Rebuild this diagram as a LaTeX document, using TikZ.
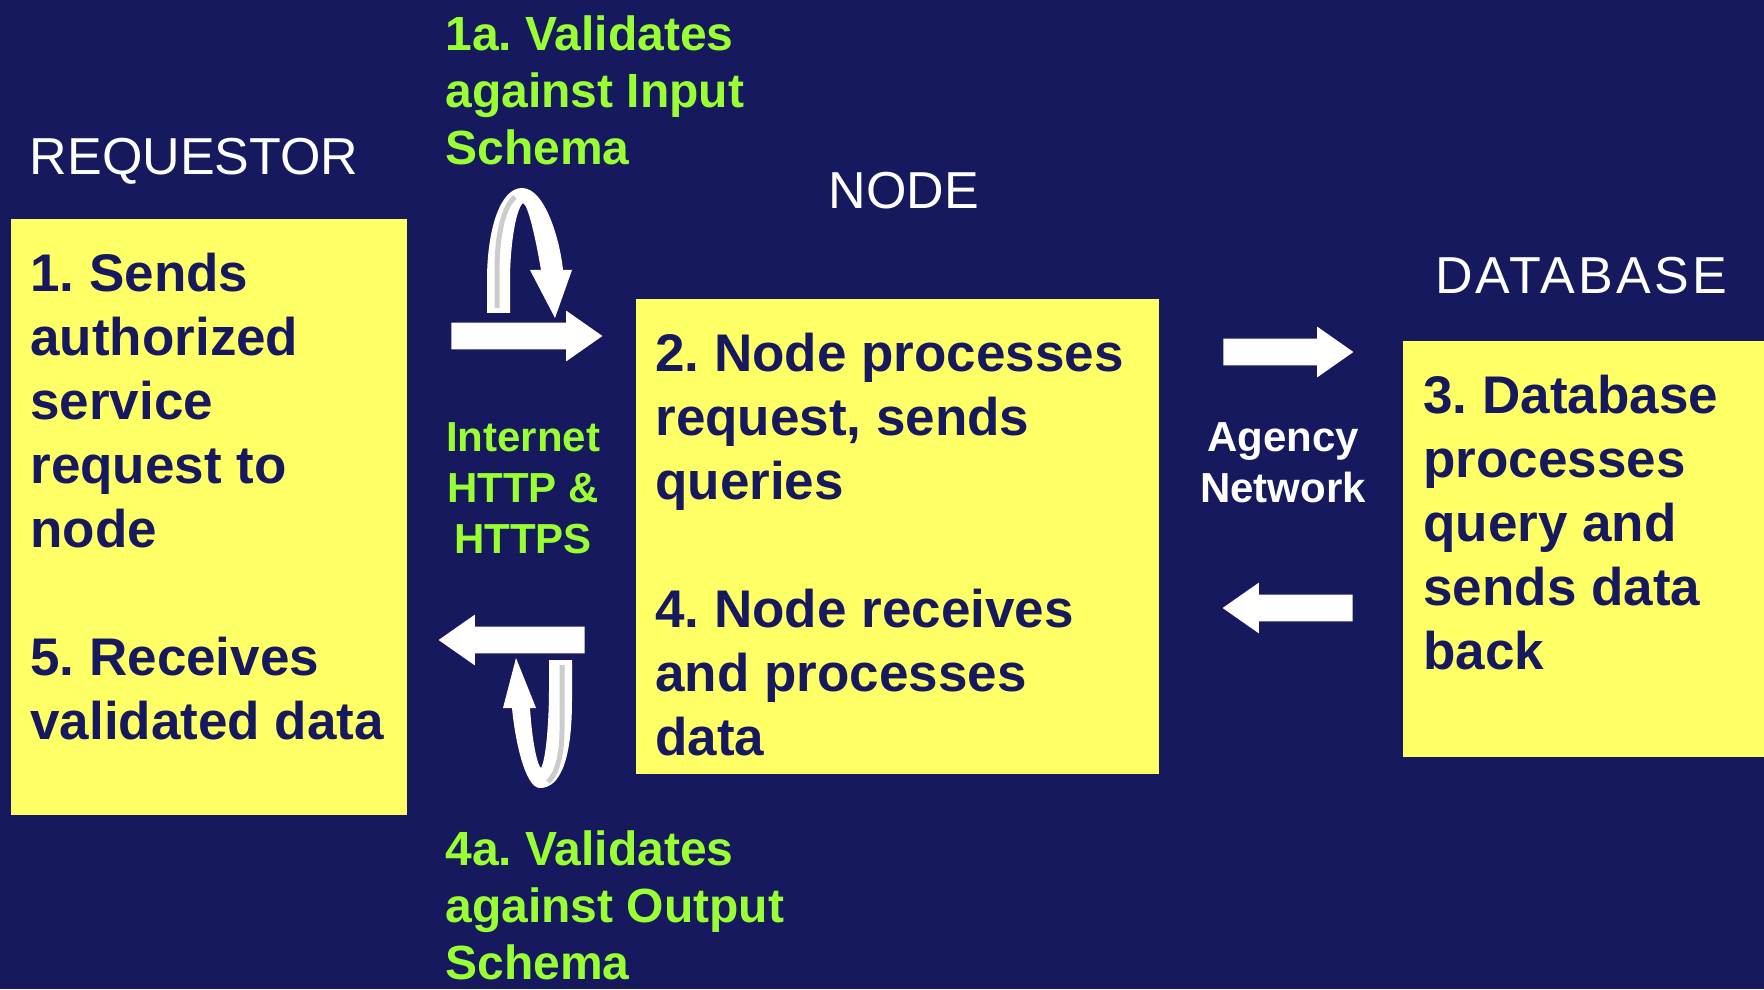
\documentclass[tikz,border=0pt]{standalone}
\usepackage{fontspec}
\setmainfont{Liberation Sans}
\usetikzlibrary{shapes.arrows}
\frenchspacing

\definecolor{navy}{RGB}{22,25,94}
\definecolor{lemon}{RGB}{255,255,102}
\definecolor{lime}{RGB}{153,255,51}

\begin{document}
\begin{tikzpicture}[x = 0.5pt, y = -0.5pt,
		yellowbox/.style = {fill = lemon, anchor = north west, inner sep = 0pt},
		boxtext/.style = {anchor = base west, align = left, inner sep = 0pt, text = navy,
			font = \bfseries\fontsize{26.5}{32}\selectfont},
		greentext/.style = {anchor = base west, align = left, inner sep = 0pt, text = lime,
			font = \bfseries\fontsize{24}{28.5}\selectfont},
		linktext/.style = {anchor = base, align = center, inner sep = 0pt,
			font = \bfseries\fontsize{21}{25.5}\selectfont},
		title/.style = {anchor = base, inner sep = 0pt, text = white,
			font = \fontsize{26}{30}\selectfont},
		blockarrow/.style = {single arrow, fill = white, anchor = tail, inner xsep = 0pt, inner ysep = 6.5pt,
			single arrow head extend = 6pt, single arrow tip angle = 70}]

		\fill [navy] (0,0) rectangle (1764,989);
		\useasboundingbox (0,0) rectangle (1764,989);

		% the three parties
		\node [yellowbox, minimum width = 198pt, minimum height = 298pt] (reqbox) at (11,219) {};
		\node [yellowbox, minimum width = 261.5pt, minimum height = 237.5pt] (nodebox) at (636,299) {};
		\node [yellowbox, minimum width = 180.5pt, minimum height = 208pt] (dbbox) at (1403,341) {};

		\node [title] (reqtitle) at (194,175) {REQUESTOR};
		\node [title] (nodetitle) at (904,209) {NODE};
		\node [title] (dbtitle) at (1581,293) {\addfontfeature{LetterSpace=6}DATABASE};

		% base of a multi-line node is its last line
		\node [boxtext] (reqtext) at (30,739)
			{1. Sends\\authorized\\service\\request to\\node\\[32pt]5. Receives\\validated data};
		\node [boxtext] (nodetext) at (655,755)
			{2. Node processes\\request, sends\\queries\\[32pt]4. Node receives\\and processes\\data};
		\node [boxtext] (dbtext) at (1423,669)
			{3. Database\\processes\\query and\\sends data\\back};

		% validation steps
		\node [greentext] (inval) at (445,165) {1a. Validates\\against Input\\Schema};
		\node [greentext] (outval) at (445,979) {4a. Validates\\against Output\\Schema};

		\node [linktext, text = lime] (internet) at (523,553) {Internet\\HTTP \&\\HTTPS};
		\node [linktext, text = white] (agency) at (1283,502) {Agency\\Network};

		% block arrows
		\node [blockarrow, minimum height = 75.5pt] (toreq) at (451,336) {};
		\node [blockarrow, minimum height = 73pt, shape border rotate = 180] (fromreq) at (585,640) {};
		\node [blockarrow, minimum height = 65pt] (todb) at (1223,352) {};
		\node [blockarrow, minimum height = 65pt, shape border rotate = 180] (fromdb) at (1353,608) {};

		% turn-back arrows
		\fill [white] (487,313) -- (487,280) .. controls (487,230) and (500,188) .. (522,188)
			.. controls (545,188) and (560,240) .. (563,270) -- (572,270) -- (555,318) -- (530,270)
			-- (541,270) .. controls (535,235) and (528,205) .. (523,203)
			.. controls (515,210) and (510,250) .. (510,280) -- (510,313) -- cycle;
		\draw [gray!40, line width = 2.5pt] (497,308) -- (497,270) .. controls (497,230) and (505,205) .. (515,197);

		\fill [white] (572,660) -- (572,700) .. controls (572,760) and (560,788) .. (540,788)
			.. controls (525,788) and (515,740) .. (512,708) -- (503,708) -- (516,658) -- (536,708)
			-- (530,708) .. controls (532,740) and (537,765) .. (541,768)
			.. controls (546,760) and (549,720) .. (549,690) -- (549,660) -- cycle;
		\draw [gray!40, line width = 2.5pt] (562,665) -- (562,730) .. controls (562,757) and (556,775) .. (548,782);

		\end{tikzpicture}
\end{document}
